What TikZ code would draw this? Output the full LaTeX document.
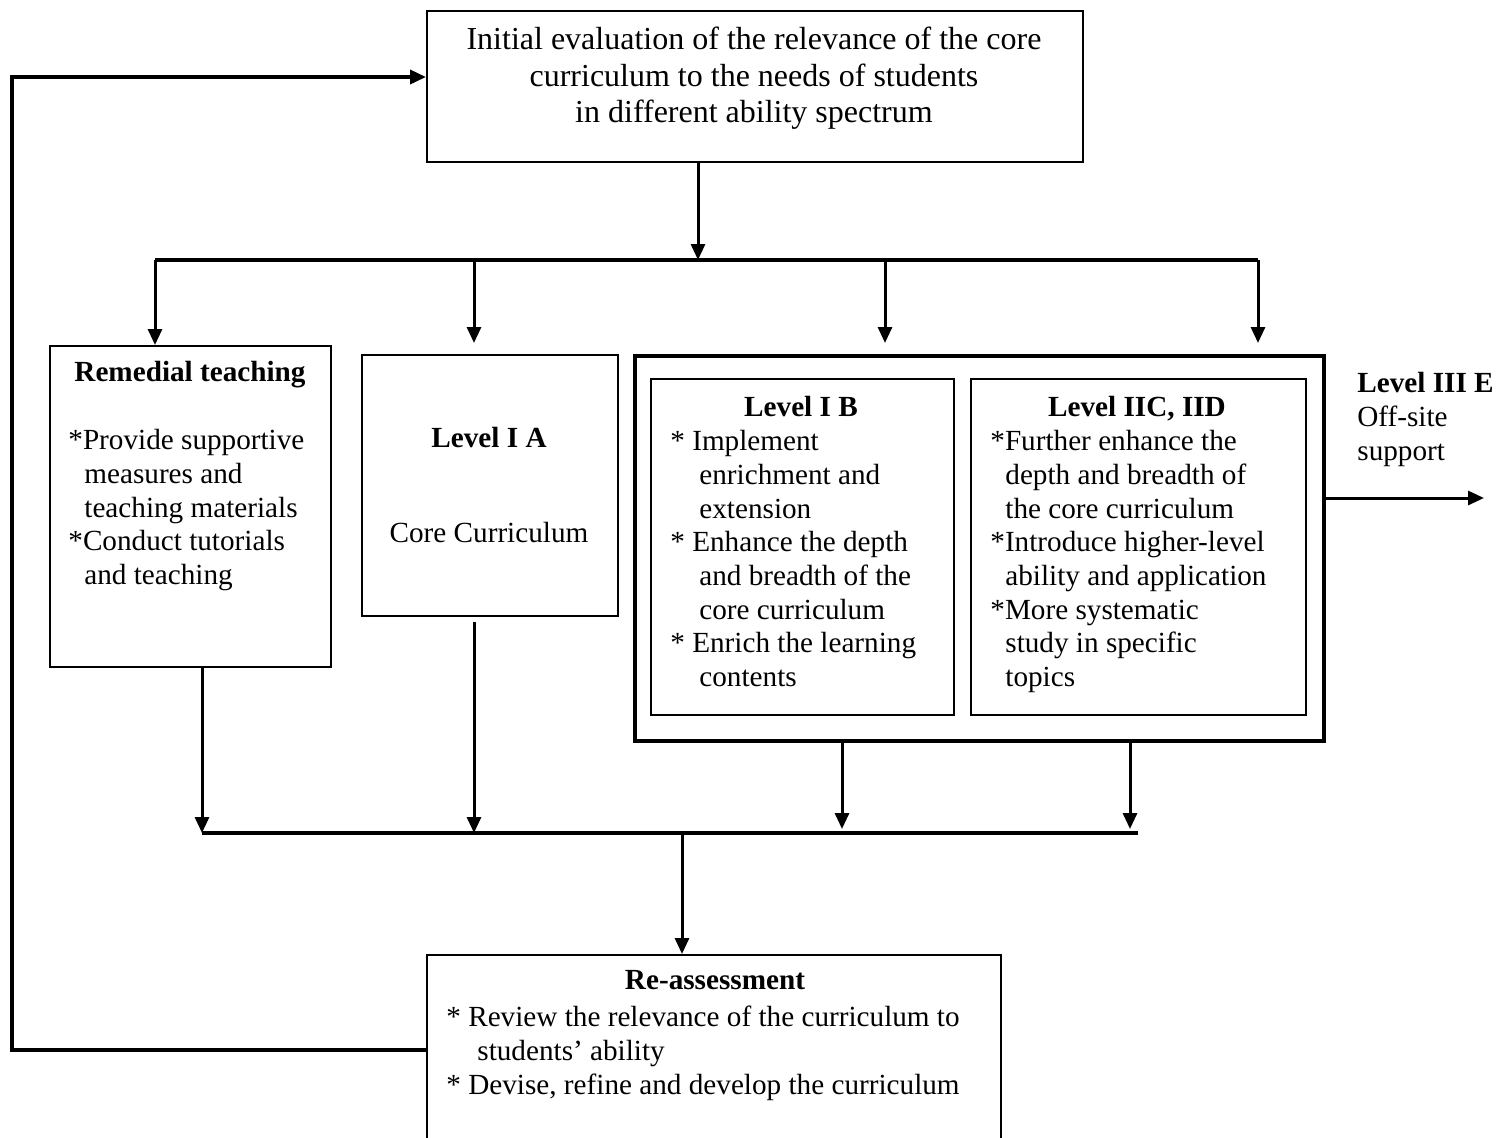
\documentclass[tikz,border=0pt]{standalone}
\usepackage{fontspec}
\setmainfont{Liberation Serif}
\usetikzlibrary{arrows.meta}
\begin{document}
\begin{tikzpicture}[x=0.5pt,y=-0.5pt,
 box/.style={draw,line width=0.75pt,inner sep=0,anchor=north west},
 txt/.style={inner sep=0,font=\fontsize{14.6}{16.85}\selectfont},
 arr/.style={line width=1.5pt,-{Triangle[length=8pt,width=7pt]}},
 bus/.style={line width=2pt}]
\useasboundingbox (0,0) rectangle (1512,1137);
% boxes
\node[box,minimum width=328pt,minimum height=75.5pt] (top) at (426,10) {};
\node[box,minimum width=140.5pt,minimum height=160.5pt] (rem) at (49,345) {};
\node[box,minimum width=128pt,minimum height=130.5pt] (ia) at (361,354) {};
\node[box,line width=2pt,minimum width=344.5pt,minimum height=192.5pt] (big) at (633,354) {};
\node[box,minimum width=151.5pt,minimum height=168pt] (ib) at (650,378) {};
\node[box,minimum width=167.5pt,minimum height=168pt] (iic) at (970,378) {};
\node[box,minimum width=287pt,minimum height=95pt] (re) at (426,954) {};
% texts
\node[txt,font=\fontsize{16}{18.25}\selectfont,align=center,anchor=north] (toptxt) at (754,27)
 {Initial evaluation of the relevance of the core\\curriculum to the needs of students\\in different ability spectrum};
\node[txt,anchor=north] (remt) at (190,361) {\textbf{Remedial teaching}};
\node[txt,anchor=north west,align=left] (remi) at (68,429)
 {*Provide supportive\\\hspace*{8pt}measures and\\\hspace*{8pt}teaching materials\\{*}Conduct tutorials\\\hspace*{8pt}and teaching};
\node[txt,anchor=north] (iat) at (489,427) {\textbf{Level I A}};
\node[txt,anchor=north] (iai) at (489,522) {Core Curriculum};
\node[txt,anchor=north] (ibt) at (801,396) {\textbf{Level I B}};
\node[txt,anchor=north west,align=left] (ibi) at (670,430)
 {* Implement\\\hspace*{14.5pt}enrichment and\\\hspace*{14.5pt}extension\\{*} Enhance the depth\\\hspace*{14.5pt}and breadth of the\\\hspace*{14.5pt}core curriculum\\{*} Enrich the learning\\\hspace*{14.5pt}contents};
\node[txt,anchor=north] (iict) at (1137,396) {\textbf{Level IIC, IID}};
\node[txt,anchor=north west,align=left] (iici) at (990,430)
 {*Further enhance the\\\hspace*{7.5pt}depth and breadth of\\\hspace*{7.5pt}the core curriculum\\{*}Introduce higher-level\\\hspace*{7.5pt}ability and application\\{*}More systematic\\\hspace*{7.5pt}study in specific\\\hspace*{7.5pt}topics};
\node[txt,anchor=north west,align=left] (iiie) at (1357,372) {\textbf{Level III E}\\Off-site\\support};
\node[txt,anchor=north] (ret) at (715,970) {\textbf{Re-assessment}};
\node[txt,anchor=north west,align=left] (rei) at (446,1006)
 {* Review the relevance of the curriculum to\\\hspace*{15.5pt}students’ ability\\{*} Devise, refine and develop the curriculum};
% top bus
\coordinate (t) at (698,260);
\coordinate (d1) at (155,260);
\coordinate (d2) at (474,260);
\coordinate (d3) at (885,260);
\coordinate (d4) at (1258,260);
\draw[bus] (d1) -- (d4);
\draw[arr] (top.south -| t) -- (t);
\draw[arr] (d1) -- (d1 |- rem.north);
\draw[arr] (d2) -- ([yshift=5.5pt]d2 |- ia.north);
\draw[arr] (d3) -- ([yshift=5.5pt]d3 |- big.north);
\draw[arr] (d4) -- ([yshift=5.5pt]d4 |- big.north);
% bottom bus
\coordinate (e1) at (202,833);
\coordinate (e2) at (474,833);
\coordinate (e3) at (842,833);
\coordinate (e4) at (1130,833);
\coordinate (e5) at (1138,833);
\coordinate (f) at (682,833);
\draw[line width=1.6pt] (e1) -- (e5);
\draw[arr] (rem.south -| e1) -- (e1);
\draw[arr] ([yshift=-2.5pt]ia.south -| e2) -- (e2);
\draw[arr] (big.south -| e3) -- ([yshift=2pt]e3);
\draw[arr] (big.south -| e4) -- ([yshift=2pt]e4);
\draw[arr] (f) -- (f |- re.north);
% Level III E
\coordinate (g) at (1484,498);
\draw[arr] (big.east |- g) -- (g);
% feedback
\coordinate (fb) at (12,77);
\draw[arr,line width=1.8pt] (re.west) -| (fb) -- (fb -| top.west);
\end{tikzpicture}
\end{document}
